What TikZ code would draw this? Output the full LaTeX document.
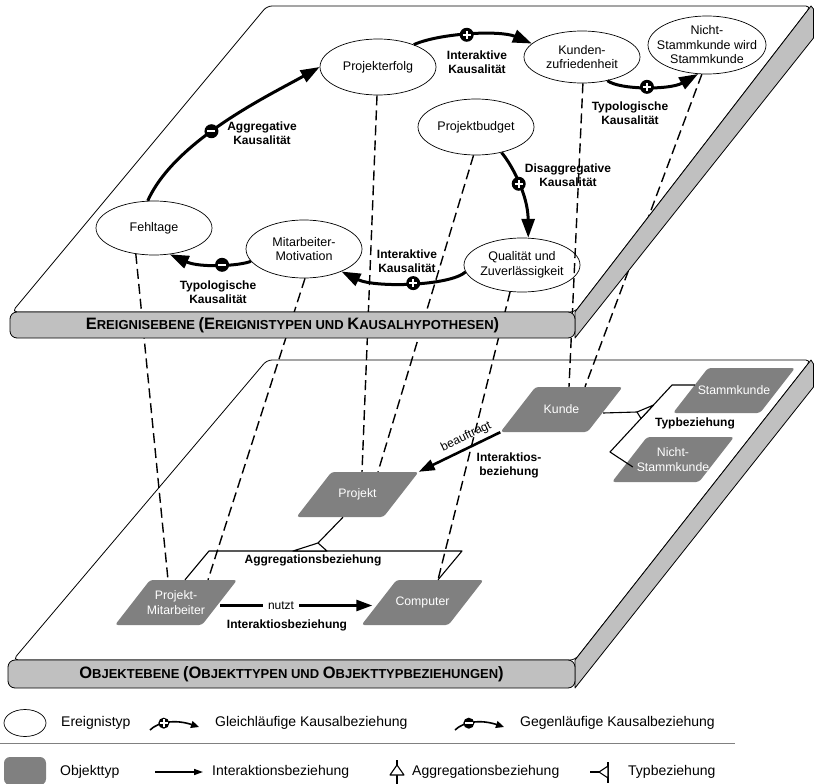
\documentclass[tikz,border=0pt]{standalone}
\usepackage{fontspec}
\setmainfont{Liberation Sans}
\usetikzlibrary{arrows.meta,shapes.geometric,calc}

\definecolor{bargray}{HTML}{C0C0C0}
\definecolor{objgray}{HTML}{808080}
\definecolor{rulegray}{HTML}{808080}

% larger initial letters for the small-caps level titles
\newcommand{\initcap}[1]{{\fontsize{16.5}{18}\selectfont #1}}

\begin{document}
\begin{tikzpicture}[x=1pt, y=-1pt,
  face/.style={draw=black, line width=0.8pt, fill=white, rounded corners=5pt, line join=round},
  sideface/.style={draw=black, line width=0.8pt, fill=bargray, line join=round},
  levelbar/.style={draw=black, line width=0.8pt, fill=bargray, rounded corners=7pt,
    minimum height=26pt, inner sep=0pt, font=\bfseries\fontsize{13}{15}\selectfont},
  event/.style={ellipse, draw=black, line width=0.7pt, fill=white,
    minimum width=116pt, minimum height=56pt, inner sep=0pt},
  evtext/.style={font=\fontsize{12.5}{14.5}\selectfont, align=center, inner sep=0pt},
  causal/.style={line width=3pt, -{Triangle[length=19pt,width=13pt]}},
  plusmk/.style={circle, fill=black, draw=none, minimum size=14pt, inner sep=0pt, outer sep=0pt,
    path picture={\draw[white, line width=2.2pt, arrows=-, line cap=butt]
      ([xshift=-4pt]path picture bounding box.center) -- ([xshift=4pt]path picture bounding box.center)
      ([yshift=-4pt]path picture bounding box.center) -- ([yshift=4pt]path picture bounding box.center);}},
  minusmk/.style={circle, fill=black, draw=none, minimum size=14pt, inner sep=0pt, outer sep=0pt,
    path picture={\draw[white, line width=2.4pt, arrows=-, line cap=butt]
      ([xshift=-4pt]path picture bounding box.center) -- ([xshift=4pt]path picture bounding box.center);}},
  lab/.style={font=\bfseries\fontsize{12}{14}\selectfont, align=center, inner sep=0pt},
  link/.style={dash pattern=on 10pt off 5pt, line width=1.4pt},
  objtype/.style={minimum width=122pt, minimum height=45pt, inner sep=0pt, text=white,
    font=\fontsize{12.3}{15}\selectfont, align=center,
    path picture={\fill[objgray, rounded corners=3pt]
      (path picture bounding box.south west) -- ([xshift=-35pt]path picture bounding box.south east)
      -- (path picture bounding box.north east) -- ([xshift=35pt]path picture bounding box.north west) -- cycle;}},
  interact/.style={line width=2.6pt, -{Triangle[length=16pt,width=11pt]}},
  relline/.style={line width=1.1pt, line join=round},
  reltext/.style={font=\fontsize{12}{14}\selectfont, inner sep=0pt},
  legtext/.style={font=\fontsize{14}{16}\selectfont, anchor=west, inner sep=0pt},
]
\useasboundingbox (0,0) rectangle (814,784);

% ---------- object level (lower plate) ----------
\path[face] (267,360) -- (811,360) -- (575,660) -- (13,660) -- cycle;
\path[sideface] (575,660) -- (811,360) -- (813.5,364) -- (813.5,387) -- (575,688) -- cycle;
\node[levelbar, minimum width=567pt, minimum height=28pt] (obar) at (291.5,674)
  {\initcap{O}BJEKTEBENE \initcap{(O}BJEKTTYPEN UND \initcap{O}BJEKTTYPBEZIEHUNGEN\initcap{)}};

% ---------- event level (upper plate) ----------
\path[face] (267,6) -- (811,6) -- (575,312) -- (12,312) -- cycle;

% event types
\node[event, label={[evtext]center:Projekterfolg}] (erfolg) at (378,67) {};
\node[event, minimum height=52pt, label={[evtext]center:{Kunden-\\zufriedenheit}}] (zufr) at (582,57) {};
\node[event, minimum width=118pt, minimum height=58pt,
  label={[evtext]center:{Nicht-\\Stammkunde wird\\Stammkunde}}] (nicht) at (707,45) {};
\node[event, label={[evtext]center:Projektbudget}] (budget) at (476,127) {};
\node[event, minimum height=54pt, label={[evtext]center:{Qualität und\\Zuverlässigkeit}}] (quali) at (522,265) {};
\node[event, minimum height=58pt, label={[evtext]center:{Mitarbeiter-\\Motivation}}] (motiv) at (304,249) {};
\node[event, minimum height=54pt, label={[evtext]center:Fehltage}] (fehl) at (154,228) {};

% object types
\node[objtype] (kunde) at (561.5,409.5) {Kunde};
\node[objtype] (stamm) at (734,390.5) {Stammkunde};
\node[objtype] (nstamm) at (673,459.5) {Nicht-\\Stammkunde};
\node[objtype] (projekt) at (357.5,494.5) {Projekt};
\node[objtype] (pma) at (176,602.5) {Projekt-\\Mitarbeiter};
\node[objtype] (computer) at (422.5,602.5) {Computer};

% links between event types and object types
\draw[link] (fehl.235) -- ([xshift=-8pt]pma.north);
\draw[link] (motiv.272) -- ([xshift=32pt]pma.north);
\draw[link] (erfolg.268) -- ([xshift=4.5pt]projekt.north);
\draw[link] (budget.265) -- ([xshift=20.5pt]projekt.north);
\draw[link] (quali.246) -- ([xshift=15.5pt]computer.north);
\draw[link] (zufr.272) -- ([xshift=7.5pt]kunde.north);
\draw[link] (nicht.260) -- ([xshift=23.5pt]kunde.north);

% front and side of the upper plate cover the links
\path[sideface] (575,312) -- (811,6) -- (813.5,9) -- (813.5,38) -- (575,338) -- cycle;
\node[levelbar, minimum width=565pt] (ebar) at (292.5,325)
  {\initcap{E}REIGNISEBENE \initcap{(E}REIGNISTYPEN UND \initcap{K}AUSALHYPOTHESEN\initcap{)}};

% causal hypotheses (curve first, sign marker on top)
\draw[causal] (fehl.103) .. controls (175,140) and (270,95) .. coordinate[pos=0.43] (m1) (erfolg.180);
\node[minusmk] (mk1) at (m1) {};
\node[lab] at (262,133) {Aggregative\\Kausalität};

\draw[causal] (erfolg.32) .. controls (440,33) and (500,30) .. coordinate[pos=0.47] (m2) (zufr.165);
\node[plusmk] (mk2) at (m2) {};
\node[lab] at (477,62.5) {Interaktive\\Kausalität};

\draw[causal] (zufr.317) .. controls (620,90) and (670,90) .. coordinate[pos=0.5] (m3) (nicht.253);
\node[plusmk] (mk3) at (m3) {};
\node[lab] at (630,113.5) {Typologische\\Kausalität};

\draw[causal] (budget.315) .. controls (512,165) and (528,195) .. coordinate[pos=0.5] (m4) (quali.77);
\node[plusmk] (mk4) at (m4) {};
\node[lab] at (568,175.5) {Disaggregative\\Kausalität};

\draw[causal] (quali.187) .. controls (450,286) and (375,288) .. coordinate[pos=0.48] (m5) (motiv.329);
\node[plusmk] (mk5) at (m5) {};
\node[lab] at (407,261) {Interaktive\\Kausalität};

\draw[causal] (motiv.193) .. controls (240,266) and (200,268) .. coordinate[pos=0.45] (m6) (fehl.301);
\node[minusmk] (mk6) at (m6) {};
\node[lab] at (218,292) {Typologische\\Kausalität};

% interaction: Kunde -> Projekt
\draw[interact] (kunde.south west) -- node[pos=0.36, sloped, above=4pt, reltext]{beauftragt} (projekt.north east);
\node[lab] at (509,465) {Interaktios-\\beziehung};

% interaction: Projekt-Mitarbeiter -> Computer
\draw[interact] ([xshift=-17pt,yshift=-3pt]pma.east) --
  node[pos=0.4, reltext, fill=white, inner xsep=5pt, inner ysep=2pt]{nutzt}
  ([xshift=11pt,yshift=-3pt]computer.west);
\node[lab] at (287,625) {Interaktiosbeziehung};

% aggregation: Projekt consists of Projekt-Mitarbeiter and Computer
\coordinate (aapex) at (318,543);
\coordinate (aleft) at (209,551);
\coordinate (aright) at (462,551);
\draw[relline] ([xshift=-14.5pt]projekt.south) -- (aapex);
\draw[relline] ([xshift=9pt]pma.north) -- (aleft) -- (aright) -- ([xshift=15.5pt]computer.north);
\filldraw[relline, fill=white] (293,551) -- (aapex) -- (327,551) -- cycle;
\node[lab] at (313,560) {Aggregationsbeziehung};

% type relation: Kunde is Stammkunde or Nicht-Stammkunde
\coordinate (tapex) at (637,412);
\coordinate (btop) at (672,385);
\coordinate (bbot) at (610,452);
\draw[relline] ([xshift=-19.5pt,yshift=-3.5pt]kunde.east) -- (tapex);
\draw[relline] ([xshift=22pt,yshift=5.5pt]stamm.west) -- (btop) -- (bbot) -- ([xshift=21pt,yshift=-7.5pt]nstamm.west);
\filldraw[relline, fill=white] (tapex) -- ($(btop)!0.3!(bbot)$) -- ($(btop)!0.5!(bbot)$) -- cycle;
\node[lab] at (695,423) {Typbeziehung};

% ---------- legend ----------
\node[event, minimum width=42pt, minimum height=27pt] (lgev) at (25,723) {};
\node[legtext] (lgevt) at (61,723) {Ereignistyp};
\coordinate (lgpa) at (150,730);
\coordinate (lgpb) at (199,727);
\draw[line width=1.6pt, -{Triangle[length=8pt,width=7pt]}] (lgpa) .. controls (158,722) and (175,719) ..
  coordinate[pos=0.4] (lgpc) (lgpb);
\node[plusmk, minimum size=11pt] (lgpm) at (lgpc) {};
\node[legtext] (lgpt) at (215,723) {Gleichläufige Kausalbeziehung};
\coordinate (lgma) at (455,730);
\coordinate (lgmb) at (504,727);
\draw[line width=1.6pt, -{Triangle[length=8pt,width=7pt]}] (lgma) .. controls (463,722) and (480,719) ..
  coordinate[pos=0.4] (lgmc) (lgmb);
\node[minusmk, minimum size=11pt] (lgmm) at (lgmc) {};
\node[legtext] (lgmt) at (520,723) {Gegenläufige Kausalbeziehung};

\draw[rulegray, line width=1pt] (0,743) -- (735,743);

\node[fill=objgray, rounded corners=6pt, minimum width=42pt, minimum height=28pt, inner sep=0pt] (lgobj) at (25,771) {};
\node[legtext] (lgobjt) at (60,772) {Objekttyp};
\coordinate (lgia) at (155,772);
\coordinate (lgib) at (203,772);
\draw[line width=1.5pt, -{Triangle[length=9pt,width=6pt]}] (lgia) -- (lgib);
\node[legtext] (lgit) at (212,772) {Interaktionsbeziehung};
\coordinate (lgaa) at (397,760);
\coordinate (lgab) at (397,784);
\draw[relline] (lgaa) -- (lgab);
\filldraw[relline, fill=white] (397,765) -- (390,775) -- (404,775) -- cycle;
\node[legtext] (lgat) at (412,772) {Aggregationsbeziehung};
\coordinate (lgta) at (590,772);
\coordinate (lgtb) at (599,772);
\draw[relline] (lgta) -- (lgtb);
\draw[relline] (608,762) -- (608,783);
\filldraw[relline, fill=white] (lgtb) -- (608,766) -- (608,778) -- cycle;
\node[legtext] (lgtt) at (628,772) {Typbeziehung};
\end{tikzpicture}
\end{document}
